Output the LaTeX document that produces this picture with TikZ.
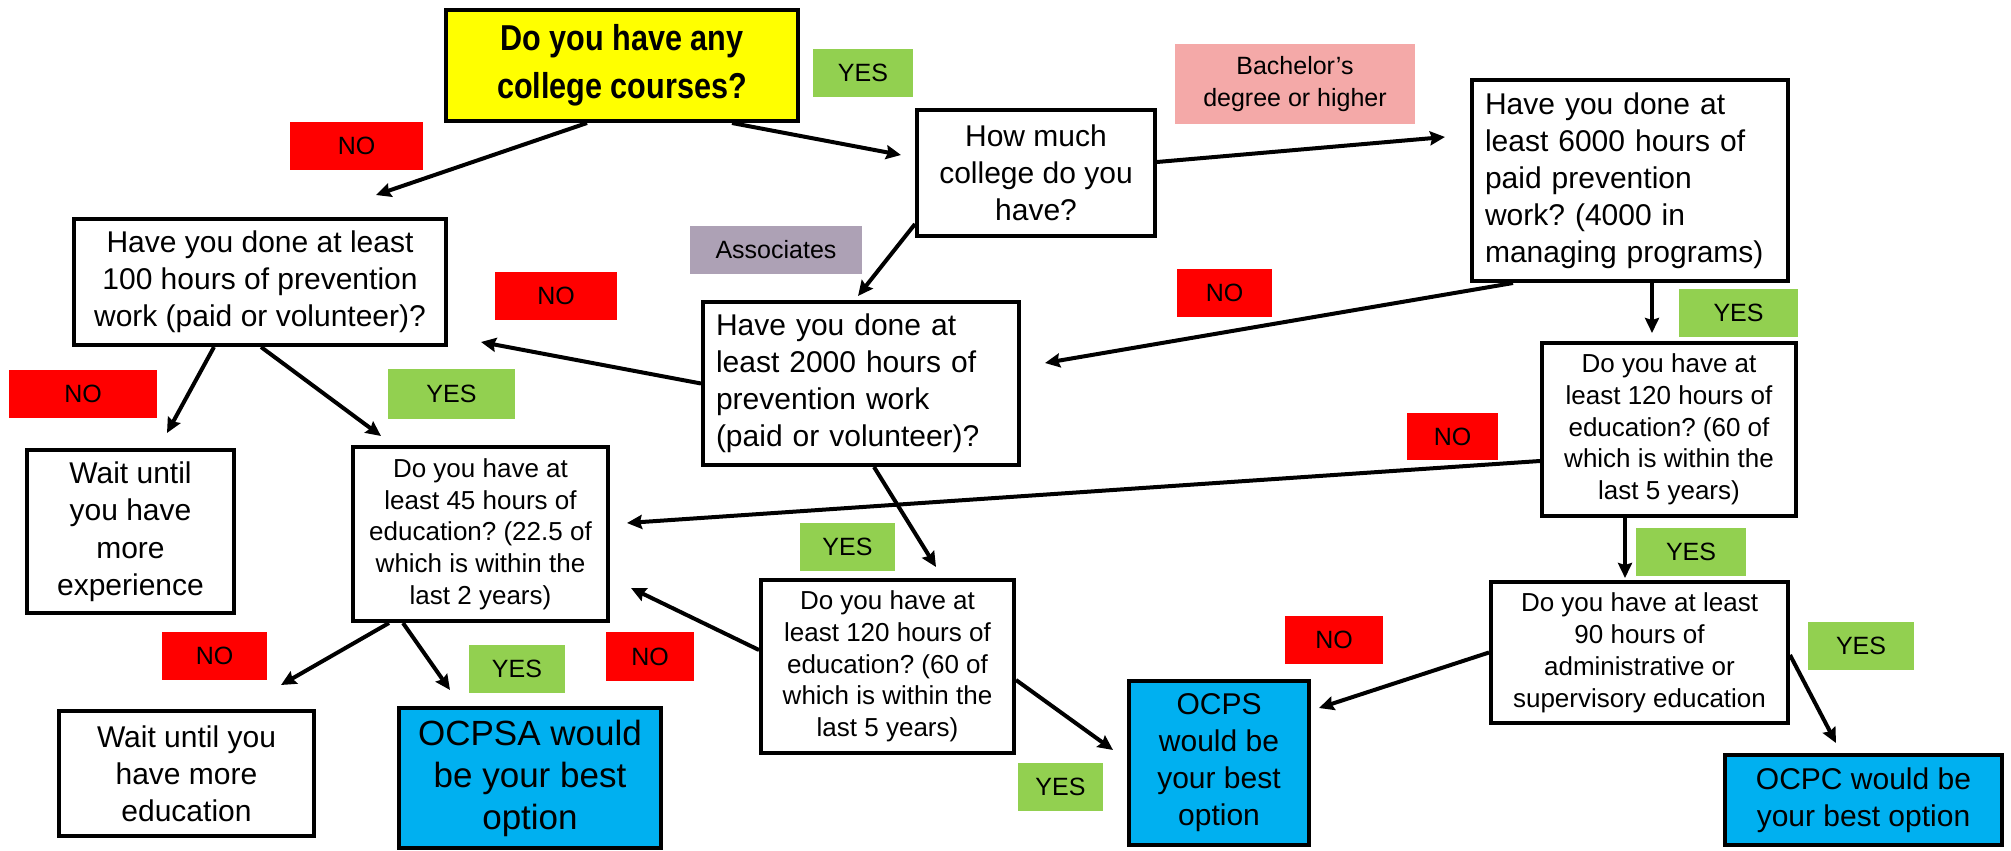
\documentclass[tikz,border=0pt]{standalone}
\usepackage{fontspec}
\setmainfont{Liberation Sans}
\newfontfamily\condbold{Liberation Sans}[FakeStretch=0.85]
\usetikzlibrary{arrows.meta}
\definecolor{yesgreen}{RGB}{146,208,80}
\definecolor{nored}{RGB}{255,0,0}
\definecolor{assoc}{RGB}{173,161,181}
\definecolor{bach}{RGB}{244,169,168}
\definecolor{ocpblue}{RGB}{0,176,240}
\definecolor{qyellow}{RGB}{255,255,0}
\frenchspacing
\begin{document}
\frenchspacing
\begin{tikzpicture}[x=1pt,y=-1pt,
  box/.style={draw=black, line width=4pt, fill=white, inner sep=0pt, align=center, font=\frenchspacing\fontsize{30}{37}\selectfont},
  smallbox/.style={box, font=\frenchspacing\fontsize{26}{31.7}\selectfont},
  bluebox/.style={box, fill=ocpblue},
  lab/.style={inner sep=0pt, align=center, font=\fontsize{25}{32}\selectfont},
  yeslab/.style={lab, fill=yesgreen},
  nolab/.style={lab, fill=nored},
  arr/.style={-{Stealth[length=15pt,width=14pt,inset=2pt]}, line width=4pt},
]
\useasboundingbox (0,0) rectangle (2011,851);

% boxes
\node[box, fill=qyellow, minimum width=352, minimum height=111, font=\condbold\bfseries\fontsize{36}{48}\selectfont] (yellow) at (622,65.5) {Do you have any\\college courses?};
\node[box, minimum width=238, minimum height=126] (howmuch) at (1036,173) {How much\\college do you\\have?};
\node[box, minimum width=316, minimum height=201, align=left, text width=290] (q6000) at (1630,180.5) {Have you done at\\least 6000 hours of\\paid prevention\\work? (4000 in\\managing programs)};
\node[box, minimum width=372, minimum height=126] (q100) at (260,282) {Have you done at least\\100 hours of prevention\\work (paid or volunteer)?};
\node[box, minimum width=316, minimum height=163, align=left, text width=290] (q2000) at (861,383.5) {Have you done at\\least 2000 hours of\\prevention work\\(paid or volunteer)?};
\node[smallbox, minimum width=254, minimum height=173] (q120b) at (1669,429.5) {Do you have at\\least 120 hours of\\education? (60 of\\which is within the\\last 5 years)};
\node[box, minimum width=207, minimum height=163, font=\fontsize{30}{37.5}\selectfont] (wait1) at (130.5,531.5) {Wait until\\you have\\more\\experience};
\node[smallbox, minimum width=255, minimum height=174] (q45) at (480.5,534) {Do you have at\\least 45 hours of\\education? (22.5 of\\which is within the\\last 2 years)};
\node[smallbox, minimum width=253, minimum height=173] (q120a) at (887.5,666.5) {Do you have at\\least 120 hours of\\education? (60 of\\which is within the\\last 5 years)};
\node[smallbox, minimum width=297, minimum height=141, font=\fontsize{26}{32}\selectfont] (q90) at (1639.5,652.5) {Do you have at least\\90 hours of\\administrative or\\supervisory education};
\node[box, minimum width=255, minimum height=125] (wait2) at (186.5,773.5) {Wait until you\\have more\\education};
\node[bluebox, minimum width=262, minimum height=140, font=\fontsize{35}{42}\selectfont] (ocpsa) at (530,778) {OCPSA would\\be your best\\option};
\node[bluebox, minimum width=180, minimum height=164] (ocps) at (1219,763) {OCPS\\would be\\your best\\option};
\node[bluebox, minimum width=277, minimum height=90] (ocpc) at (1863.5,800) {OCPC would be\\your best option};

% labels
\node[yeslab, minimum width=100, minimum height=48] (y1) at (863,73) {YES};
\node[nolab, minimum width=133, minimum height=48] (n1) at (356.5,146) {NO};
\node[lab, fill=bach, minimum width=240, minimum height=80] (bachl) at (1295,84) {Bachelor’s\\degree or higher};
\node[lab, fill=assoc, minimum width=172, minimum height=48] (assocl) at (776,250) {Associates};
\node[nolab, minimum width=122, minimum height=48] (n2) at (556,296) {NO};
\node[nolab, minimum width=95, minimum height=48] (n4) at (1224.5,293) {NO};
\node[yeslab, minimum width=119, minimum height=48] (y3) at (1738.5,313) {YES};
\node[nolab, minimum width=148, minimum height=48] (n3) at (83,394) {NO};
\node[yeslab, minimum width=127, minimum height=50] (y2) at (451.5,394) {YES};
\node[nolab, minimum width=91, minimum height=47] (n5) at (1452.5,436.5) {NO};
\node[yeslab, minimum width=95, minimum height=48] (y4) at (847.5,547) {YES};
\node[yeslab, minimum width=110, minimum height=48] (y6) at (1691,552) {YES};
\node[nolab, minimum width=105, minimum height=48] (n6) at (214.5,656) {NO};
\node[yeslab, minimum width=96, minimum height=48] (y5) at (517,669) {YES};
\node[nolab, minimum width=88, minimum height=49] (n7) at (650,656.5) {NO};
\node[nolab, minimum width=98, minimum height=48] (n8) at (1334,640) {NO};
\node[yeslab, minimum width=106, minimum height=48] (y7) at (1861,646) {YES};
\node[yeslab, minimum width=85, minimum height=48] (y8) at (1060.5,787) {YES};

% connectors
\draw[arr] ([shift={(-35,0)}]yellow.south) -- ([shift={(116,-22)}]q100.north);
\draw[arr] ([shift={(110,0)}]yellow.south) -- ([shift={(-14,-18)}]howmuch.west);
\draw[arr] ([shift={(0,-11)}]howmuch.east) -- ([shift={(-25,-43.5)}]q6000.west);
\draw[arr] ([shift={(0,-14)}]howmuch.south west) -- ([shift={(-3,-4)}]q2000.north);
\draw[arr] ([shift={(-117,0)}]q6000.south) -- ([shift={(24,-20.5)}]q2000.east);
\draw[arr] ([shift={(22,0)}]q6000.south) -- ([shift={(-17,-8)}]q120b.north);
\draw[arr] (q2000.west) -- ([shift={(33,60)}]q100.east);
\draw[arr] ([shift={(-46,0)}]q100.south) -- ([shift={(36.5,-15)}]wait1.north);
\draw[arr] ([shift={(1,0)}]q100.south) -- ([shift={(-99.5,-9)}]q45.north);
\draw[arr] ([shift={(13,0)}]q2000.south) -- ([shift={(48.5,-11)}]q120a.north);
\draw[arr] ([shift={(0,31.5)}]q120b.west) -- ([shift={(17,-11)}]q45.east);
\draw[arr] ([shift={(0,-16.5)}]q120a.west) -- ([shift={(21,54)}]q45.east);
\draw[arr] ([shift={(0,13.5)}]q120a.east) -- ([shift={(-14,-13)}]ocps.west);
\draw[arr] ([shift={(-91.5,0)}]q45.south) -- ([shift={(94.5,-24)}]wait2.north);
\draw[arr] ([shift={(-77.5,0)}]q45.south) -- ([shift={(-80,-16)}]ocpsa.north);
\draw[arr] ([shift={(-44,0)}]q120b.south) -- ([shift={(-14.5,-2)}]q90.north);
\draw[arr] (q90.west) -- ([shift={(8,-55)}]ocps.east);
\draw[arr] ([shift={(0,2.5)}]q90.east) -- ([shift={(-27.5,-10)}]ocpc.north);
\end{tikzpicture}
\end{document}
